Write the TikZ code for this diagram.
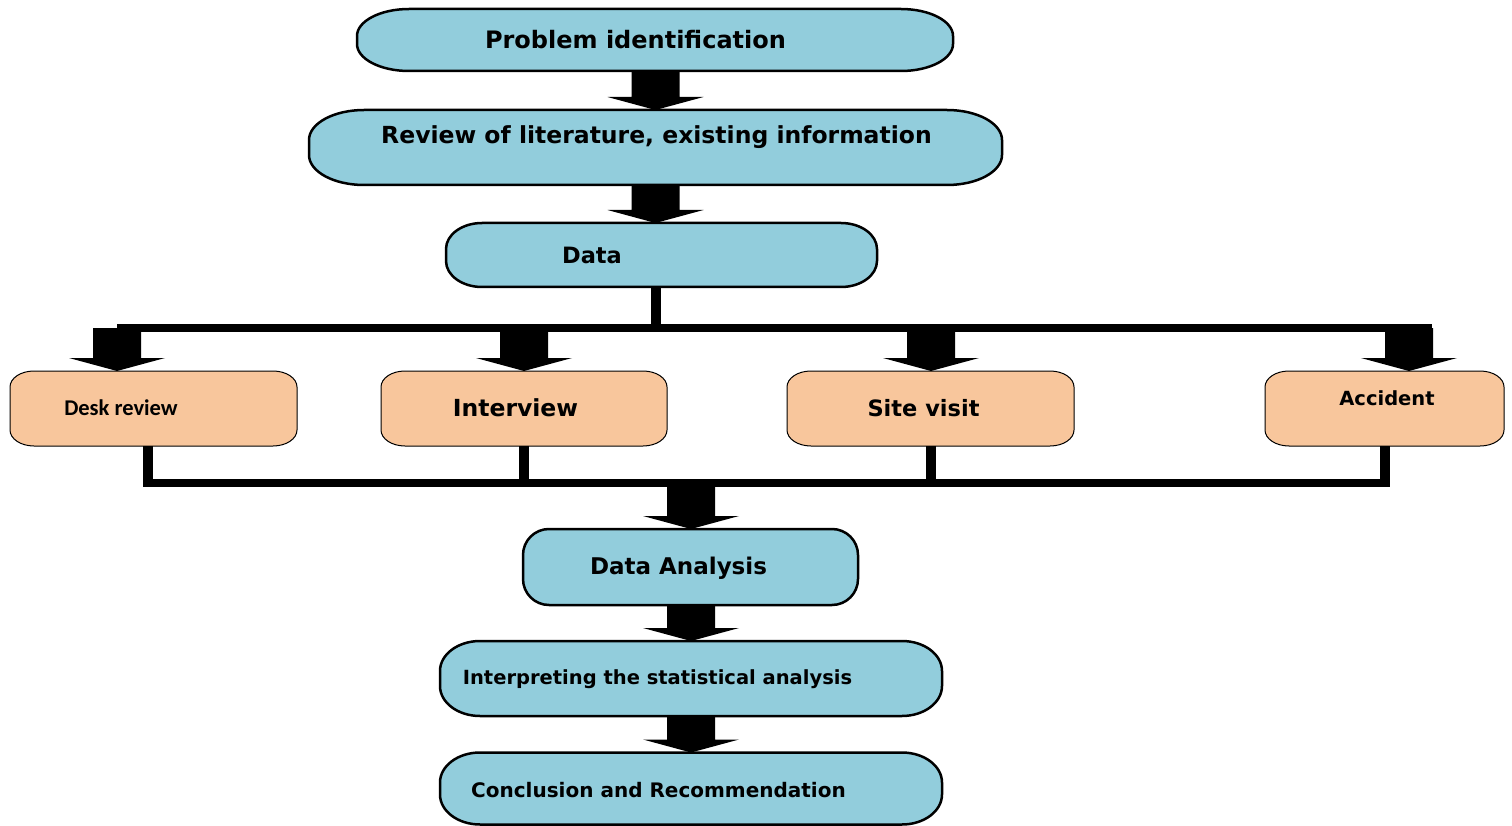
\documentclass[tikz,border=0pt]{standalone}
\usepackage{fontspec}
\setmainfont{DejaVu Sans}
\newfontfamily\carlito{Carlito}
\usetikzlibrary{calc}
\definecolor{boxblue}{HTML}{92CDDC}
\definecolor{boxorange}{HTML}{F8C69C}
\newcommand\barrow[3]{%
  \fill let \p1=#1, \p2=#2, \p3=(#3,0) in
    (\x3-24pt,\y1) -- (\x3+24pt,\y1) -- (\x3+24pt,\y2+13pt) -- (\x3+48pt,\y2+13pt)
    -- (\x3,\y2) -- (\x3-48pt,\y2+13pt) -- (\x3-24pt,\y2+13pt) -- cycle;}
% elliptic-corner box drawn on a placeholder node: name, rx, ry, fill, line width
\newcommand\ebox[5]{%
  \path[fill=#4, draw=black, line width=#5, line join=round] let \p1=(#1.south west), \p2=(#1.north east) in
  (\x1+#2,\y1) -- (\x2-#2,\y1)
  .. controls (\x2-#2+0.5523*#2,\y1) and (\x2,\y1+#3-0.5523*#3) .. (\x2,\y1+#3)
  -- (\x2,\y2-#3)
  .. controls (\x2,\y2-#3+0.5523*#3) and (\x2-#2+0.5523*#2,\y2) .. (\x2-#2,\y2)
  -- (\x1+#2,\y2)
  .. controls (\x1+#2-0.5523*#2,\y2) and (\x1,\y2-#3+0.5523*#3) .. (\x1,\y2-#3)
  -- (\x1,\y1+#3)
  .. controls (\x1,\y1+#3-0.5523*#3) and (\x1+#2-0.5523*#2,\y1) .. (\x1+#2,\y1) -- cycle;}
\newcommand\fsz[1]{\fontsize{#1}{#1}\bfseries\selectfont}
\begin{document}
\begin{tikzpicture}[x=1pt,y=-1pt,
  place/.style={inner sep=0pt, outer sep=0pt},
  lbl/.style={inner sep=0pt, anchor=center},
  conn/.style={line width=8pt}]
\useasboundingbox (0,0) rectangle (1512,826);
% placeholder nodes for boxes
\node[place, minimum width=596pt, minimum height=62pt] (prob) at (655,40) {};
\node[place, minimum width=693pt, minimum height=75pt] (rev) at (655.5,147.5) {};
\node[place, minimum width=431pt, minimum height=64pt] (data) at (661.5,255) {};
\node[place, minimum width=335pt, minimum height=76pt] (ana) at (690.5,567) {};
\node[place, minimum width=502pt, minimum height=75pt] (interp) at (691,678.5) {};
\node[place, minimum width=502pt, minimum height=72pt] (concl) at (691,788.5) {};
\node[place, minimum width=287pt, minimum height=75pt] (desk) at (153.5,408.5) {};
\node[place, minimum width=286pt, minimum height=75pt] (inter) at (524,408.5) {};
\node[place, minimum width=287pt, minimum height=75pt] (site) at (930.5,408.5) {};
\node[place, minimum width=239pt, minimum height=75pt] (acc) at (1384.5,408.5) {};
% box outlines
\ebox{prob}{52pt}{27pt}{boxblue}{2.5pt}
\ebox{rev}{55pt}{30pt}{boxblue}{2.5pt}
\ebox{data}{36pt}{26pt}{boxblue}{2.5pt}
\ebox{ana}{26pt}{26pt}{boxblue}{2.5pt}
\ebox{interp}{40pt}{30pt}{boxblue}{2.5pt}
\ebox{concl}{40pt}{30pt}{boxblue}{2.5pt}
\ebox{desk}{24pt}{16pt}{boxorange}{1pt}
\ebox{inter}{24pt}{16pt}{boxorange}{1pt}
\ebox{site}{24pt}{16pt}{boxorange}{1pt}
\ebox{acc}{24pt}{16pt}{boxorange}{1pt}
% labels
\node[lbl, font=\fsz{24}] (tprob) at (635.5,40) {Problem identification};
\node[lbl, font=\fsz{23.5}] (trev) at (656.5,137) {Review of literature, existing information};
\node[lbl, font=\fsz{22.5}] (tdata) at (592,255) {Data};
\node[lbl, font=\fsz{23}] (tana) at (678.5,568) {Data Analysis};
\node[lbl, font=\fsz{19.5}] (tinterp) at (657.5,679) {Interpreting the statistical analysis};
\node[lbl, font=\fsz{20}] (tconcl) at (658.5,790) {Conclusion and Recommendation};
\node[lbl, font=\carlito\fsz{22.5}] (tdesk) at (121,408) {Desk review};
\node[lbl, font=\fsz{23.5}] (tinter) at (515.5,408) {Interview};
\node[lbl, font=\fsz{22.5}] (tsite) at (923.5,408) {Site visit};
\node[lbl, font=\fsz{19.5}] (tacc) at (1387,398) {Accident};
% coordinates
\coordinate (xmain) at (655.5,0);
\coordinate (xdesk) at (148,0);
\coordinate (tbL) at (117,328);
\coordinate (tbR) at (1432,328);
\coordinate (tbD) at (117,328);
\coordinate (tbI) at (524,328);
\coordinate (tbS) at (931,328);
\coordinate (tbA) at (1409,328);
\coordinate (bbL) at (148,483);
\coordinate (bbR) at (1385,483);
\coordinate (bbM) at (691,483);
% block arrows between blue boxes
\barrow{(prob.south)}{(rev.north)}{655.5}
\barrow{(rev.south)}{(data.north)}{655.5}
% data stem and top bar
\draw[line width=10pt] (data.south -| xmain) -- (tbL -| xmain);
\draw[conn] (tbL) -- (tbR);
\barrow{(tbD)}{(desk.north)}{117}
\barrow{(tbI)}{(inter.north)}{524}
\barrow{(tbS)}{(site.north)}{931}
\barrow{(tbA)}{(acc.north)}{1409}
% stems to bottom bar
\draw[line width=10pt] (desk.south -| xdesk) -- (bbL);
\draw[line width=10pt] (inter.south) -- (inter.south |- bbL);
\draw[line width=10pt] (site.south) -- (site.south |- bbL);
\draw[line width=10pt] (acc.south) -- (acc.south |- bbL);
\draw[conn] ([xshift=-5pt]bbL) -- ([xshift=5pt]bbR);
\barrow{(bbM)}{(ana.north)}{691}
\barrow{(ana.south)}{(interp.north)}{691}
\barrow{(interp.south)}{(concl.north)}{691}
\end{tikzpicture}
\end{document}
